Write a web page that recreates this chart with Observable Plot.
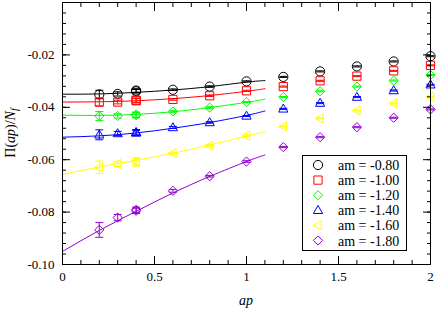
<!DOCTYPE html>
<html><head><meta charset="utf-8">
<script src="https://cdn.jsdelivr.net/npm/d3@7"></script>
<script src="https://cdn.jsdelivr.net/npm/@observablehq/plot@0.6"></script>
<style>
body{margin:0;background:#fff}
svg{font-family:"Liberation Serif",serif}
</style>
</head><body><div id="chart"></div>
<script>
// ---- data ----
const apValues = [0.2, 0.3, 0.4, 0.4, 0.6, 0.8, 1.0, 1.2, 1.4, 1.6, 1.8, 2.0];
const seriesLabels = ["am = -0.80", "am = -1.00", "am = -1.20", "am = -1.40", "am = -1.60", "am = -1.80"];
const seriesColors = ["#000000", "#ff0000", "#00ff00", "#0000ff", "#ffff00", "#9400d3"];
const seriesSymbols = ["circle", "square", "diamond", "triangle", "triangleLeft", "diamond"];

const pi_m080 = [-0.0351, -0.0349, -0.0339, -0.0336, -0.0333, -0.0321, -0.0301, -0.0284, -0.0263, -0.0244, -0.0225, -0.0205];
const pi_m100 = [-0.0380, -0.0380, -0.0375, -0.0373, -0.0370, -0.0356, -0.0337, -0.0321, -0.0299, -0.0281, -0.0261, -0.0240];
const pi_m120 = [-0.0433, -0.0433, -0.0430, -0.0428, -0.0416, -0.0401, -0.0380, -0.0361, -0.0339, -0.0321, -0.0298, -0.0277];
const pi_m140 = [-0.0505, -0.0500, -0.0498, -0.0495, -0.0477, -0.0458, -0.0433, -0.0406, -0.0384, -0.0361, -0.0336, -0.0314];
const pi_m160 = [-0.0629, -0.0616, -0.0610, -0.0607, -0.0575, -0.0546, -0.0508, -0.0473, -0.0442, -0.0412, -0.0385, -0.0360];
const pi_m180 = [-0.0868, -0.0821, -0.0795, -0.0791, -0.0719, -0.0663, -0.0607, -0.0552, -0.0514, -0.0476, -0.0440, -0.0408];

const err_m080 = [0.0016, 0.0008, 0.0007, 0.0007, 0.0003, 0.0003, 0.0002, 0.0002, 0.0002, 0.0002, 0.0002, 0.0002];
const err_m100 = [0.0015, 0.0007, 0.0008, 0.0008, 0.0003, 0.0003, 0.0002, 0.0002, 0.0002, 0.0002, 0.0002, 0.0002];
const err_m120 = [0.0017, 0.0008, 0.0010, 0.0010, 0.0003, 0.0003, 0.0002, 0.0002, 0.0002, 0.0002, 0.0002, 0.0002];
const err_m140 = [0.0019, 0.0008, 0.0010, 0.0010, 0.0004, 0.0003, 0.0002, 0.0002, 0.0002, 0.0002, 0.0002, 0.0002];
const err_m160 = [0.0024, 0.0010, 0.0014, 0.0014, 0.0004, 0.0003, 0.0003, 0.0002, 0.0002, 0.0002, 0.0002, 0.0002];
const err_m180 = [0.0028, 0.0012, 0.0010, 0.0010, 0.0005, 0.0003, 0.0003, 0.0002, 0.0002, 0.0002, 0.0002, 0.0002];

const fitAp = [0, 0.2, 0.4, 0.6, 0.8, 1.0, 1.1];
const fit_m080 = [-0.0350, -0.0349, -0.0343, -0.0334, -0.0321, -0.0304, -0.0298];
const fit_m100 = [-0.0380, -0.0379, -0.0375, -0.0367, -0.0355, -0.0339, -0.0329];
const fit_m120 = [-0.0430, -0.0431, -0.0427, -0.0417, -0.0401, -0.0381, -0.0369];
const fit_m140 = [-0.0514, -0.0509, -0.0498, -0.0480, -0.0458, -0.0431, -0.0414];
const fit_m160 = [-0.0656, -0.0628, -0.0602, -0.0575, -0.0544, -0.0510, -0.0493];
const fit_m180 = [-0.0950, -0.0870, -0.0797, -0.0727, -0.0664, -0.0607, -0.0582];

const xMajorTicks = [0, 0.5, 1, 1.5, 2];
const xTickLabels = ["0", "0.5", "1", "1.5", "2"];
const yMajorTicks = [-0.10, -0.08, -0.06, -0.04, -0.02, 0];
const yTickLabels = ["-0.10", "-0.08", "-0.06", "-0.04", "-0.02", ""];
const xMinorTicks = d3.range(0, 21).map(i => i / 10);
const yMinorTicks = d3.range(0, 26).map(i => -0.1 + i * 0.004);

// ---- build tables ----
const piSeries = [pi_m080, pi_m100, pi_m120, pi_m140, pi_m160, pi_m180];
const errSeries = [err_m080, err_m100, err_m120, err_m140, err_m160, err_m180];
const fitSeries = [fit_m080, fit_m100, fit_m120, fit_m140, fit_m160, fit_m180];

// ---- symbols ----
const shapes = {
  circle(ctx) { const r = 4.6; ctx.moveTo(r, 0); ctx.arc(0, 0, r, 0, 2 * Math.PI); },
  square(ctx) { const s = 4.1; ctx.rect(-s, -s, 2 * s, 2 * s); },
  diamond(ctx) { const s = 4.6; ctx.moveTo(0, -s); ctx.lineTo(s, 0); ctx.lineTo(0, s); ctx.lineTo(-s, 0); ctx.closePath(); },
  triangle(ctx) { ctx.moveTo(0, -4.8); ctx.lineTo(4.6, 3.2); ctx.lineTo(-4.6, 3.2); ctx.closePath(); },
  triangleLeft(ctx) { ctx.moveTo(-4.8, 0); ctx.lineTo(3.2, -4.6); ctx.lineTo(3.2, 4.6); ctx.closePath(); },
  cap(ctx) { ctx.moveTo(-4, 0); ctx.lineTo(4, 0); }
};
const sym = name => ({ draw: (ctx) => shapes[name](ctx) });

const marks = [];
piSeries.forEach((vals, i) => {
  const rows = vals.map((v, j) => ({ ap: apValues[j], pi: v, lo: v - errSeries[i][j], hi: v + errSeries[i][j] }));
  const fitRows = fitSeries[i].map((v, j) => ({ ap: fitAp[j], pi: v }));
  const c = seriesColors[i];
  marks.push(Plot.line(fitRows, { x: "ap", y: "pi", stroke: c, strokeWidth: 1, curve: "natural" }));
  marks.push(Plot.ruleX(rows, { x: "ap", y1: "lo", y2: "hi", stroke: c, strokeWidth: 1 }));
  marks.push(Plot.dot(rows, { x: "ap", y: "lo", symbol: sym("cap"), stroke: c, strokeWidth: 1, r: 1 }));
  marks.push(Plot.dot(rows, { x: "ap", y: "hi", symbol: sym("cap"), stroke: c, strokeWidth: 1, r: 1 }));
  marks.push(Plot.dot(rows, { x: "ap", y: "pi", symbol: sym(seriesSymbols[i]), stroke: c, fill: "none", strokeWidth: 1, r: 1 }));
});

const blank = () => "";
const plot = Plot.plot({
  width: 436, height: 313,
  marginLeft: 62, marginRight: 6, marginTop: 2, marginBottom: 49,
  style: { fontFamily: "Liberation Serif", fontSize: "13px", color: "black", background: "white", overflow: "visible" },
  x: { domain: [0, 2] },
  y: { domain: [-0.1, 0] },
  marks: [
    ...marks,
    Plot.frame({ stroke: "black", strokeWidth: 1 }),
    Plot.axisX({ anchor: "bottom", ticks: xMajorTicks, tickSize: 0, tickPadding: 7, tickFormat: (d) => xTickLabels[xMajorTicks.indexOf(d)], label: null }),
    Plot.axisX({ anchor: "bottom", ticks: xMajorTicks, tickSize: -8, tickFormat: blank, label: null }),
    Plot.axisX({ anchor: "bottom", ticks: xMinorTicks, tickSize: -4, tickFormat: blank, label: null }),
    Plot.axisX({ anchor: "top", ticks: xMajorTicks, tickSize: -8, tickFormat: blank, label: null }),
    Plot.axisX({ anchor: "top", ticks: xMinorTicks, tickSize: -4, tickFormat: blank, label: null }),
    Plot.axisY({ anchor: "left", ticks: yMajorTicks, tickSize: 0, tickPadding: 8, tickFormat: d => yTickLabels[yMajorTicks.findIndex(t => Math.abs(t - d) < 1e-9)], label: null }),
    Plot.axisY({ anchor: "left", ticks: yMajorTicks, tickSize: -8, tickFormat: blank, label: null }),
    Plot.axisY({ anchor: "left", ticks: yMinorTicks, tickSize: -4, tickFormat: blank, label: null }),
    Plot.axisY({ anchor: "right", ticks: yMajorTicks, tickSize: -8, tickFormat: blank, label: null }),
    Plot.axisY({ anchor: "right", ticks: yMinorTicks, tickSize: -4, tickFormat: blank, label: null })
  ]
});

const svg = d3.select(plot);
// axis titles
const yl = svg.append("text").attr("transform", "translate(15,133) rotate(-90)")
  .attr("text-anchor", "middle").style("font-size", "14px").attr("fill", "black");
yl.append("tspan").text("Π(");
yl.append("tspan").style("font-style", "italic").text("ap");
yl.append("tspan").text(")/");
yl.append("tspan").style("font-style", "italic").text("N");
yl.append("tspan").style("font-style", "italic").style("font-size", "10px").attr("dy", 3).text("f");

svg.append("text").attr("x", 246).attr("y", 305).attr("text-anchor", "middle")
  .style("font-size", "14px").style("font-style", "italic").attr("fill", "black").text("ap");

// legend
const lg = svg.append("g").attr("text-anchor", "start");
lg.append("rect").attr("x", 302.5).attr("y", 155.5).attr("width", 104).attr("height", 95)
  .attr("fill", "white").attr("stroke", "black").attr("stroke-width", 1);
seriesLabels.forEach((lab, i) => {
  const y = 165 + i * 15.1;
  const p = d3.path();
  shapes[seriesSymbols[i]](p);
  lg.append("path").attr("d", p.toString()).attr("transform", `translate(318,${y})`)
    .attr("fill", "none").attr("stroke", seriesColors[i]).attr("stroke-width", 1);
  lg.append("text").attr("x", 338).attr("y", y + 5).attr("text-anchor", "start")
    .style("font-size", "14px").attr("fill", "black").text(lab);
});

document.getElementById("chart").appendChild(plot);
</script>
</body></html>
